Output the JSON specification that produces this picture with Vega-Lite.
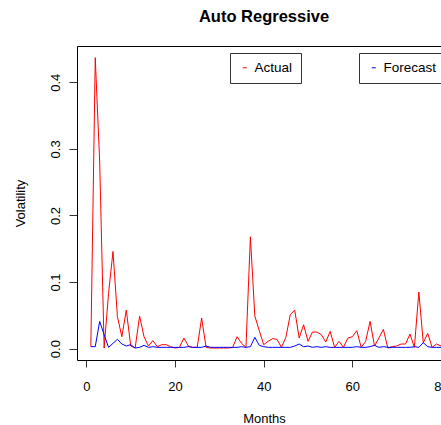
{
  "$schema": "https://vega.github.io/schema/vega-lite/v6.json",
  "autosize": {"type": "none"},
  "padding": {"left": 77, "top": 46, "right": 0, "bottom": 65},
  "width": 364,
  "height": 314,
  "title": {"text": "Auto Regressive", "font": "Liberation Sans", "fontSize": 16.5, "fontWeight": "bold", "color": "#000", "anchor": "middle", "dx": 5, "baseline": "alphabetic", "offset": 8},
  "data": {"values": [
    {"month": 1, "actual": 0.003, "forecast": 0.003},
    {"month": 2, "actual": 0.437, "forecast": 0.003},
    {"month": 3, "actual": 0.28, "forecast": 0.041},
    {"month": 4, "actual": 0.001, "forecast": 0.021},
    {"month": 5, "actual": 0.083, "forecast": 0.002},
    {"month": 6, "actual": 0.146, "forecast": 0.008},
    {"month": 7, "actual": 0.048, "forecast": 0.014},
    {"month": 8, "actual": 0.018, "forecast": 0.007},
    {"month": 9, "actual": 0.058, "forecast": 0.004},
    {"month": 10, "actual": 0.004, "forecast": 0.006},
    {"month": 11, "actual": 0.001, "forecast": 0.001},
    {"month": 12, "actual": 0.049, "forecast": 0.002},
    {"month": 13, "actual": 0.018, "forecast": 0.005},
    {"month": 14, "actual": 0.004, "forecast": 0.002},
    {"month": 15, "actual": 0.012, "forecast": 0.003},
    {"month": 16, "actual": 0.003, "forecast": 0.002},
    {"month": 17, "actual": 0.006, "forecast": 0.002},
    {"month": 18, "actual": 0.006, "forecast": 0.002},
    {"month": 19, "actual": 0.003, "forecast": 0.002},
    {"month": 20, "actual": 0.001, "forecast": 0.002},
    {"month": 21, "actual": 0.002, "forecast": 0.002},
    {"month": 22, "actual": 0.016, "forecast": 0.002},
    {"month": 23, "actual": 0.004, "forecast": 0.003},
    {"month": 24, "actual": 0.002, "forecast": 0.002},
    {"month": 25, "actual": 0.002, "forecast": 0.002},
    {"month": 26, "actual": 0.046, "forecast": 0.002},
    {"month": 27, "actual": 0.002, "forecast": 0.004},
    {"month": 28, "actual": 0.001, "forecast": 0.002},
    {"month": 29, "actual": 0.001, "forecast": 0.002},
    {"month": 30, "actual": 0.001, "forecast": 0.002},
    {"month": 31, "actual": 0.001, "forecast": 0.002},
    {"month": 32, "actual": 0.001, "forecast": 0.002},
    {"month": 33, "actual": 0.002, "forecast": 0.002},
    {"month": 34, "actual": 0.018, "forecast": 0.002},
    {"month": 35, "actual": 0.008, "forecast": 0.003},
    {"month": 36, "actual": 0.002, "forecast": 0.002},
    {"month": 37, "actual": 0.168, "forecast": 0.003},
    {"month": 38, "actual": 0.049, "forecast": 0.017},
    {"month": 39, "actual": 0.027, "forecast": 0.005},
    {"month": 40, "actual": 0.006, "forecast": 0.003},
    {"month": 41, "actual": 0.011, "forecast": 0.002},
    {"month": 42, "actual": 0.015, "forecast": 0.002},
    {"month": 43, "actual": 0.014, "forecast": 0.002},
    {"month": 44, "actual": 0.002, "forecast": 0.002},
    {"month": 45, "actual": 0.017, "forecast": 0.002},
    {"month": 46, "actual": 0.051, "forecast": 0.002},
    {"month": 47, "actual": 0.058, "forecast": 0.004},
    {"month": 48, "actual": 0.016, "forecast": 0.007},
    {"month": 49, "actual": 0.036, "forecast": 0.003},
    {"month": 50, "actual": 0.011, "forecast": 0.004},
    {"month": 51, "actual": 0.025, "forecast": 0.002},
    {"month": 52, "actual": 0.025, "forecast": 0.003},
    {"month": 53, "actual": 0.021, "forecast": 0.002},
    {"month": 54, "actual": 0.010, "forecast": 0.003},
    {"month": 55, "actual": 0.026, "forecast": 0.002},
    {"month": 56, "actual": 0.002, "forecast": 0.002},
    {"month": 57, "actual": 0.011, "forecast": 0.002},
    {"month": 58, "actual": 0.002, "forecast": 0.002},
    {"month": 59, "actual": 0.016, "forecast": 0.002},
    {"month": 60, "actual": 0.018, "forecast": 0.002},
    {"month": 61, "actual": 0.027, "forecast": 0.003},
    {"month": 62, "actual": 0.002, "forecast": 0.002},
    {"month": 63, "actual": 0.011, "forecast": 0.002},
    {"month": 64, "actual": 0.041, "forecast": 0.003},
    {"month": 65, "actual": 0.004, "forecast": 0.005},
    {"month": 66, "actual": 0.016, "forecast": 0.002},
    {"month": 67, "actual": 0.029, "forecast": 0.003},
    {"month": 68, "actual": 0.001, "forecast": 0.002},
    {"month": 69, "actual": 0.003, "forecast": 0.002},
    {"month": 70, "actual": 0.004, "forecast": 0.002},
    {"month": 71, "actual": 0.007, "forecast": 0.002},
    {"month": 72, "actual": 0.007, "forecast": 0.002},
    {"month": 73, "actual": 0.022, "forecast": 0.002},
    {"month": 74, "actual": 0.002, "forecast": 0.003},
    {"month": 75, "actual": 0.085, "forecast": 0.002},
    {"month": 76, "actual": 0.009, "forecast": 0.009},
    {"month": 77, "actual": 0.023, "forecast": 0.003},
    {"month": 78, "actual": 0.002, "forecast": 0.002},
    {"month": 79, "actual": 0.007, "forecast": 0.002},
    {"month": 80, "actual": 0.004, "forecast": 0.002}
  ]},
  "layer": [
    {
      "mark": {"type": "line", "strokeWidth": 1, "clip": true},
      "encoding": {
        "x": {"field": "month", "type": "quantitative",
          "scale": {"domain": [-2.12, 80], "nice": false, "zero": false},
          "axis": {"orient": "bottom", "values": [0, 20, 40, 60, 80], "format": "d", "tickSize": 7, "labelPadding": 13, "labelBound": false, "labelOverlap": false, "labelFlush": false, "title": "Months", "titleX": 187, "titleY": 62, "titleBaseline": "alphabetic", "titleAlign": "center"}},
        "y": {"field": "actual", "type": "quantitative", "title": "Volatility",
          "scale": {"domain": [-0.017, 0.4545], "nice": false, "zero": false},
          "axis": {"values": [0, 0.1, 0.2, 0.3, 0.4], "format": ".1f", "tickSize": 8, "labelAngle": 270, "labelAlign": "center", "labelBaseline": "alphabetic", "labelPadding": 10, "titleAngle": 270, "titleX": -53, "titleY": 157, "titleAlign": "center", "titleBaseline": "alphabetic"}},
        "stroke": {"datum": "Actual", "type": "nominal", "scale": {"range": ["#FF0000"]},
          "legend": {"orient": "none", "legendX": 153, "legendY": 7, "title": null}}
      }
    },
    {
      "mark": {"type": "line", "strokeWidth": 1, "clip": true},
      "encoding": {
        "x": {"field": "month", "type": "quantitative",
          "axis": {"orient": "top", "labels": false, "ticks": false, "title": null, "domain": true}},
        "y": {"field": "forecast", "type": "quantitative", "title": "Volatility",
          "axis": {"values": [0, 0.1, 0.2, 0.3, 0.4], "format": ".1f", "tickSize": 8, "labelAngle": 270, "labelAlign": "center", "labelBaseline": "alphabetic", "labelPadding": 10, "titleAngle": 270, "titleX": -53, "titleY": 157, "titleAlign": "center", "titleBaseline": "alphabetic"}},
        "color": {"datum": "Forecast", "type": "nominal", "scale": {"range": ["#0000FF"]},
          "legend": {"orient": "none", "legendX": 282, "legendY": 7, "title": null}}
      }
    }
  ],
  "resolve": {"axis": {"x": "independent"}},
  "config": {
    "view": {"stroke": null},
    "font": "Liberation Sans",
    "axis": {"labelFont": "Liberation Sans", "titleFont": "Liberation Sans", "labelFontSize": 13, "titleFontSize": 13, "labelColor": "#000", "titleColor": "#000", "titleFontWeight": "normal", "domainColor": "#000", "domainWidth": 1, "tickColor": "#333", "tickWidth": 1, "grid": false},
    "legend": {"labelFont": "Liberation Sans", "labelFontSize": 13.5, "labelColor": "#000", "symbolType": "stroke", "symbolSize": 16, "symbolStrokeWidth": 1, "strokeColor": "#333", "fillColor": "#fff", "padding": 8, "labelOffset": 3, "symbolOffset": 0}
  }
}
